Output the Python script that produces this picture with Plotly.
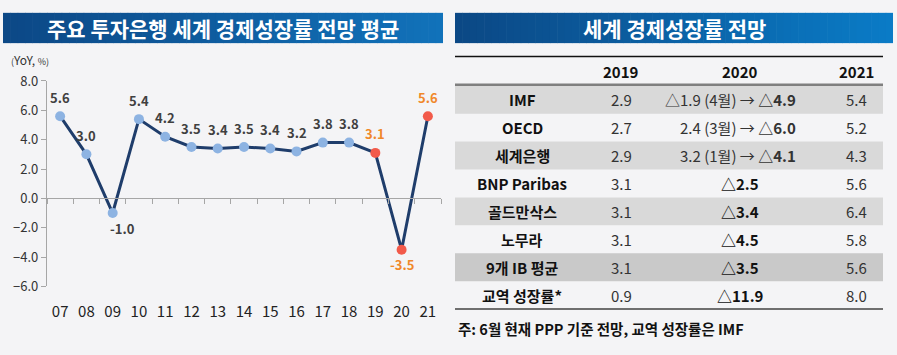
import plotly.graph_objects as go

# ---------------- data ----------------
years = ["07", "08", "09", "10", "11", "12", "13", "14", "15", "16", "17", "18", "19", "20", "21"]
growth = [5.6, 3.0, -1.0, 5.4, 4.2, 3.5, 3.4, 3.5, 3.4, 3.2, 3.8, 3.8, 3.1, -3.5, 5.6]
forecast_years = ["19", "20", "21"]
y_ticks = [-6, -4, -2, 0, 2, 4, 6, 8]

left_title = "주요 투자은행 세계 경제성장률 전망 평균"
right_title = "세계 경제성장률 전망"

tbl_years = ["2019", "2020", "2021"]
tbl_names = ["IMF", "OECD", "세계은행", "BNP Paribas", "골드만삭스", "노무라", "9개 IB 평균", "교역 성장률*"]
tbl_2019 = ["2.9", "2.7", "2.9", "3.1", "3.1", "3.1", "3.1", "0.9"]
tbl_2020_prev = ["△1.9 (4월)", "2.4 (3월)", "3.2 (1월)", "", "", "", "", ""]
tbl_2020 = ["△4.9", "△6.0", "△4.1", "△2.5", "△3.4", "△4.5", "△3.5", "△11.9"]
tbl_2021 = ["5.4", "5.2", "4.3", "5.6", "6.4", "5.8", "5.6", "8.0"]
tbl_shaded = [True, False, True, False, True, False, True, False]
footnote = "주: 6월 현재 PPP 기준 전망, 교역 성장률은 IMF"

# ---------------- styling helpers ----------------
W, H = 897, 355
FONT = "Noto Sans CJK KR"


def px(x):
    return x / W


def py(y):
    return 1 - y / H


def lerp_color(c1, c2, t):
    a = [int(c1[i:i + 2], 16) for i in (1, 3, 5)]
    b = [int(c2[i:i + 2], 16) for i in (1, 3, 5)]
    return "rgb(%d,%d,%d)" % tuple(round(a[k] + (b[k] - a[k]) * t) for k in range(3))


NAVY = "#1f3d6b"
LIGHT = "#8db3e2"
RED = "#f25a4a"
ORANGE = "#f0882a"
DARK = "#404040"
AXIS = "#a6a6a6"

fig = go.Figure()

marker_colors = [RED if y in forecast_years else LIGHT for y in years]
fig.add_trace(go.Scatter(
    x=years, y=growth, mode="lines+markers",
    line=dict(color=NAVY, width=3),
    marker=dict(color=marker_colors, size=10, line=dict(width=0)),
    hoverinfo="skip", showlegend=False,
))
# invisible trace to host the zero-line axis
fig.add_trace(go.Scatter(x=years, y=growth, xaxis="x2", yaxis="y", mode="markers",
                         marker=dict(opacity=0), hoverinfo="skip", showlegend=False))

annotations = []
shapes = []


def note(x, y, text, size, color, xanchor="center", xref="paper", yref="paper", **kw):
    annotations.append(dict(x=x, y=y, xref=xref, yref=yref, showarrow=False, text=text,
                            xanchor=xanchor, yanchor="middle",
                            font=dict(family=FONT, size=size, color=color), **kw))


# data labels (category index used as x)
label_xshift = {"09": 10}
for i, (yr, v) in enumerate(zip(years, growth)):
    note(i, v, "<b>%.1f</b>" % v, 13, ORANGE if yr in forecast_years else DARK,
         xref="x", yref="y", yshift=19 if v >= 0 else -15, xshift=label_xshift.get(yr, 0))


# title bars with gradient
def title_bar(x0, x1, y0, y1, c_left, c_right, n=60):
    step = (x1 - x0) / n
    for i in range(n):
        shapes.append(dict(type="rect", xref="paper", yref="paper",
                           x0=px(x0 + i * step), x1=px(min(x1, x0 + (i + 1) * step + 0.6)),
                           y0=py(y1), y1=py(y0), line=dict(width=0),
                           fillcolor=lerp_color(c_left, c_right, i / (n - 1)), layer="below"))


title_bar(3, 443, 3, 35, "#0c4886", "#1172ba")
title_bar(455, 893, 3, 35, "#0b4885", "#0a7bc6")
note(px(223), py(19), "<b>%s</b>" % left_title, 21, "white")
note(px(674), py(19), "<b>%s</b>" % right_title, 21, "white")

# unit label
note(px(9), py(52), "<span style='font-size:9px'>(</span>YoY, <span style='font-size:9px'>%)</span>",
     12, "#333333", xanchor="left")

# ---------------- table ----------------
TX0, TX1 = 455, 883
col_name, col_2019, col_2020, col_2020_r, col_2021 = 522, 621, 740, 798, 856
hdr_y = 65
row_top = 80
row_h = 29.5
TS = 15

shapes.append(dict(type="line", xref="paper", yref="paper", x0=px(TX0), x1=px(TX1),
                   y0=py(49), y1=py(49), line=dict(color="#111111", width=1.5)))
for i, sh in enumerate(tbl_shaded):
    if sh:
        fill = "#c9c9c9" if i == len(tbl_names) - 2 else "#d9d9d9"
        shapes.append(dict(type="rect", xref="paper", yref="paper", x0=px(TX0), x1=px(TX1),
                           y0=py(row_top + (i + 1) * row_h), y1=py(row_top + i * row_h),
                           line=dict(width=0), fillcolor=fill, layer="below"))
shapes.append(dict(type="line", xref="paper", yref="paper", x0=px(TX0), x1=px(TX1),
                   y0=py(79), y1=py(79), line=dict(color="#7f7f7f", width=2.5)))
bottom = row_top + len(tbl_names) * row_h
shapes.append(dict(type="line", xref="paper", yref="paper", x0=px(TX0), x1=px(TX1),
                   y0=py(bottom), y1=py(bottom), line=dict(color="#6f6f6f", width=2)))

for cx, t in zip([col_2019, col_2020, col_2021], tbl_years):
    note(px(cx), py(hdr_y), "<b>%s</b>" % t, TS, "#111111")

for i, name in enumerate(tbl_names):
    cy = py(row_top + (i + 0.5) * row_h)
    note(px(col_name), cy, "<b>%s</b>" % name, TS, "#111111")
    note(px(col_2019), cy, tbl_2019[i], TS, "#333333")
    if tbl_2020_prev[i]:
        note(px(col_2020_r), cy, "%s → <b>%s</b>" % (tbl_2020_prev[i], tbl_2020[i]), TS, "#333333",
             xanchor="right")
    else:
        note(px(col_2020), cy, "<b>%s</b>" % tbl_2020[i], TS, "#111111")
    note(px(col_2021), cy, tbl_2021[i], TS, "#333333")

note(px(456), py(337), "<b>%s</b>" % footnote, 14.5, "#111111", xanchor="left")

# ---------------- axes ----------------
ydom = [py(292), py(75)]
zero_pos = ydom[0] + (0 - min(y_ticks)) / (max(y_ticks) - min(y_ticks)) * (ydom[1] - ydom[0])

fig.update_layout(
    width=W, height=H,
    margin=dict(l=0, r=0, t=0, b=0),
    paper_bgcolor="#f4f4f6", plot_bgcolor="rgba(0,0,0,0)",
    font=dict(family=FONT),
    xaxis=dict(domain=[px(47), px(441)], type="category", categoryorder="array", categoryarray=years,
               range=[-0.5, len(years) - 0.5], showline=False, showgrid=False, zeroline=False,
               ticks="outside", ticklen=12, tickcolor="rgba(0,0,0,0)",
               tickfont=dict(family=FONT, size=15, color="#222222"), anchor="y", fixedrange=True),
    xaxis2=dict(domain=[px(47), px(441)], type="category", categoryorder="array", categoryarray=years,
                range=[-0.5, len(years) - 0.5], overlaying="x", anchor="free", position=zero_pos,
                showline=True, linecolor=AXIS, linewidth=1.2, ticks="outside", ticklen=5, tickcolor=AXIS,
                tickson="boundaries", showticklabels=False, showgrid=False, zeroline=False),
    yaxis=dict(domain=ydom, range=[min(y_ticks), max(y_ticks)], tickvals=y_ticks, tickformat=".1f",
               showline=True, linecolor=AXIS, linewidth=1.2, ticks="outside", ticklen=5, tickcolor=AXIS,
               showgrid=False, zeroline=False, tickfont=dict(family=FONT, size=13, color="#333333"),
               anchor="x", fixedrange=True),
    shapes=shapes,
    annotations=annotations,
)

fig.write_html("out.html", config={"displayModeBar": False},
               post_script="document.body.style.margin='0';document.body.style.overflow='hidden';")
